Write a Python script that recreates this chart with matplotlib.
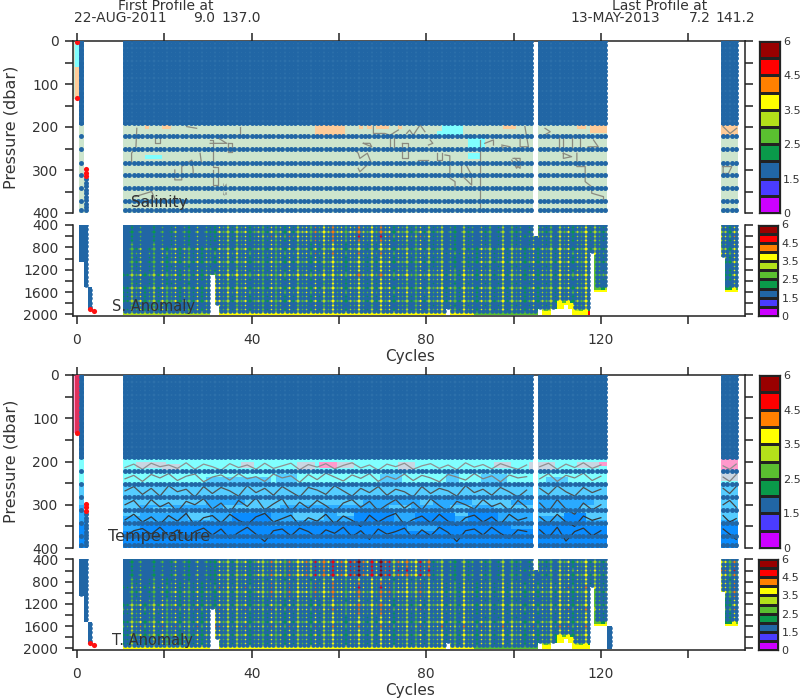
import numpy as np
import matplotlib
matplotlib.use("Agg")
import matplotlib.pyplot as plt
from matplotlib.colors import ListedColormap

W, H = 800, 700
# ---------- data ----------
bar_colors = ['#cc00ff', '#4a3cff', '#2166a5', '#0a9a4a', '#5abf30',
              '#b3e11a', '#ffff00', '#ff8000', '#ff0000', '#990000']
bar_labels = ['0', '1.5', '2.5', '3.5', '4.5', '6']
dot_color = '#2166a5'
xticks = [0, 20, 40, 60, 80, 100, 120, 140]
xlabels = ['0', '', '40', '', '80', '', '120', '']

shallow_levels = list(range(0, 200, 10)) + [222, 252, 283, 312, 342, 372, 392]
cycle2_levels = [322, 330, 338, 346, 354, 362, 370, 378, 386, 394]
shallow_cycles = [1] + list(range(11, 105)) + list(range(106, 122)) + list(range(148, 152))
shallow_blocks = [(-1, 0, 0, 135), (1, 1, 0, 400), (2, 2, 315, 400),
                  (11, 104, 0, 400), (106, 121, 0, 400), (148, 151, 0, 400)]
red_shallow_s = [(0, 3), (0, 133), (2, 298), (2, 306), (2, 314)]
red_shallow_t = [(0, 133), (2, 298), (2, 306), (2, 314)]
crimson_levels = [0, 10, 20, 30, 40, 50, 60, 70, 80, 90, 100, 110, 120, 130]

# salinity background classes: 0 pale green, 1 orange, 2 cyan, 3 upper-layer blue
s_colors = ['#cde5cd', '#ffcc99', '#80ffff', '#2f72ac']
s_patches = [(1, 151, 0, 196, 3),
             (0, 0, 0, 60, 2), (0, 0, 60, 130, 1), (16, 16, 195, 205, 1), (20, 21, 195, 205, 1),
             (55, 61, 195, 218, 1), (65, 65, 195, 205, 1), (67, 67, 195, 205, 1), (69, 71, 195, 207, 1),
             (74, 74, 195, 207, 1), (98, 100, 195, 207, 1), (115, 116, 195, 205, 1),
             (118, 121, 195, 215, 1), (148, 151, 195, 218, 1),
             (84, 88, 195, 218, 2), (83, 84, 210, 218, 2), (90, 93, 225, 253, 2),
             (90, 92, 258, 277, 2), (16, 19, 263, 277, 2)]
s_contours = [
    [(84.3, 265), (85.4, 267), (85.4, 319), (86.6, 327), (86.6, 346)],
    [(92.3, 230), (92.3, 400)],
    [(63.3, 250), (64.4, 261), (64.8, 273), (66.5, 261), (67.3, 281), (66.5, 288), (64.8, 304), (64.4, 296)],
    [(71.7, 226), (71.7, 250), (72.5, 250), (72.5, 226)],
    [(74.4, 238), (74.4, 273), (75.9, 273), (75.9, 238), (74.4, 238)],
    [(65.6, 238), (67.5, 246), (67.1, 238), (65.6, 238)],
    [(88.1, 284), (88.1, 312), (90.4, 335), (90.4, 312), (88.9, 284)],
    [(67.9, 199), (67.9, 215), (70.5, 215), (71.7, 219), (73.6, 207)],
    [(80.9, 230), (81.5, 238), (80.5, 242)],
    [(82.4, 261), (82.4, 277), (83.5, 277), (83.5, 261)],
    [(78.2, 277), (80.5, 277)],
    [(75.5, 215), (76.2, 207), (77, 219), (78.6, 195), (79.7, 211)],
    [(93.4, 238), (95.4, 230), (95.4, 242)],
    [(99.9, 273), (101.5, 273), (101.5, 296), (99.9, 285)],
    [(13.7, 203), (13.5, 246), (12.5, 261), (12.5, 284)],
    [(17.9, 219), (17.9, 238), (19, 238), (19, 222)],
    [(30.5, 230), (31.2, 230), (31.2, 292), (32.4, 292), (32.4, 335), (31.2, 335), (31.2, 300)],
    [(30.5, 238), (34.3, 238), (32.4, 226)],
    [(34.7, 238), (35.4, 238), (35.4, 257), (34.7, 257), (34.7, 238)],
    [(22.4, 300), (22.4, 323), (24, 323), (24, 292), (26.3, 277), (26.6, 300), (26.6, 308)],
    [(13.3, 362), (17.1, 350), (17.9, 370)],
    [(28.2, 261), (28.5, 284)],
    [(37.3, 199), (37.3, 218), (35.4, 218)],
    [(25.1, 199), (27.4, 203)],
    [(101.5, 222), (101.5, 246), (103.4, 246), (102.6, 199)],
    [(97.3, 242), (99.2, 246), (99.2, 253), (97.3, 246)],
    [(107.2, 203), (108.4, 211), (107.2, 218)],
    [(110.3, 218), (110.3, 250), (111.4, 250), (111.4, 218)],
    [(113.3, 222), (113.3, 250), (115.2, 250), (115.2, 226)],
    [(118.3, 230), (119.4, 246), (117.1, 246)],
    [(111.4, 261), (113.3, 269), (111.4, 273), (111.4, 261)],
    [(114.5, 261), (114.5, 292), (116.4, 292), (116.4, 327), (117.9, 339), (117.9, 354), (120.6, 362), (120.6, 370)],
    [(100.3, 273), (101.5, 285), (100.7, 296), (99.6, 277)],
    [(148, 292), (148, 308), (149.2, 308), (150, 292), (148, 292)],
    [(148, 199), (149.6, 215), (151.1, 203)],
]

# temperature background classes
t_colors = ['#c9d6e2', '#80ffff', '#55ccff', '#2aaaff', '#0a8cff', '#ff99cc', '#e0305c', '#2f72ac']
t_bands = [(0, 250, 1), (250, 300, 2), (300, 340, 3), (340, 400, 4)]
t_patches = [(1, 151, 0, 196, 7), (0, 0, 0, 135, 6), (-1, -1, 0, 135, 5),
             (14, 20, 200, 216, 0), (20, 23, 203, 220, 0), (38, 40, 200, 214, 0), (51, 54, 200, 218, 0),
             (56, 60, 200, 214, 5), (60, 63, 200, 216, 0), (74, 77, 200, 218, 0), (96, 99, 200, 215, 0),
             (104, 109, 200, 218, 0), (115, 119, 200, 216, 0), (120, 121, 200, 210, 5),
             (148, 151, 197, 222, 5), (148, 151, 222, 245, 0),
             (30, 44, 235, 250, 2), (46, 50, 228, 250, 2), (70, 74, 232, 250, 2), (85, 87, 225, 250, 2),
             (93, 98, 230, 250, 2), (108, 112, 235, 250, 2),
             (30, 38, 285, 300, 3), (66, 78, 285, 300, 3), (82, 90, 285, 300, 3), (100, 104, 290, 300, 3),
             (106, 118, 285, 300, 3),
             (11, 14, 300, 325, 2), (18, 22, 305, 320, 2), (26, 30, 310, 335, 2), (34, 46, 300, 312, 2),
             (50, 56, 310, 335, 2), (60, 64, 310, 325, 2), (72, 76, 300, 312, 2), (86, 90, 300, 325, 2),
             (96, 104, 300, 312, 2), (106, 112, 310, 325, 2), (116, 121, 300, 335, 2), (148, 151, 300, 335, 2),
             (36, 44, 318, 340, 4), (64, 72, 312, 340, 4), (78, 86, 318, 340, 4), (90, 96, 315, 340, 4),
             (112, 116, 318, 340, 4),
             (11, 14, 340, 360, 3), (44, 50, 340, 352, 3), (68, 72, 340, 352, 3), (76, 82, 345, 360, 3),
             (100, 104, 340, 355, 3), (117, 121, 340, 352, 3)]
t_line_cycles_a = list(range(11, 105, 2))
t_line_cycles_b = list(range(106, 122, 2))
t_line_cycles_c = [148, 149.5, 151]
t_line_colors = ['#909090', '#808080', '#505050', '#444444', '#333333', '#333333']
t_lines_a = [
    [214,206,218,204,212,208,216,203,218,206,212,220,205,214,208,218,204,216,210,204,219,207,213,205,217,209,203,215,208,220,206,212,204,218,210,205,216,208,219,203,213,207,217,205,212,218,208],
    [240,232,246,230,238,228,244,234,229,247,236,231,243,228,240,235,246,229,238,233,248,230,242,227,236,245,231,239,228,246,234,241,229,244,232,238,247,230,236,243,228,240,233,247,231,238,235],
    [268,258,276,262,280,256,270,264,282,258,274,260,268,280,256,272,262,278,258,270,282,260,266,276,256,268,280,262,272,258,278,264,270,282,258,274,262,268,280,256,272,264,278,260,270,282,266],
    [300,290,312,288,305,295,316,292,300,286,310,296,318,290,304,284,312,298,286,316,294,308,290,302,318,296,288,306,292,314,300,288,308,294,312,286,302,316,292,300,310,288,304,296,314,290,306],
    [335,322,340,328,345,325,338,320,348,330,325,342,322,336,346,328,320,340,332,324,348,330,338,322,344,326,336,350,324,340,328,320,346,334,326,342,322,338,348,330,324,340,328,345,322,336,330],
    [375,360,355,368,352,372,358,380,362,354,370,356,378,364,352,368,385,360,356,372,354,362,376,358,366,352,374,360,380,356,368,362,354,378,358,372,352,364,385,360,356,370,352,366,378,358,362],
]
t_lines_b = [
    [212,204,218,206,214,203,216,208], [240,228,246,232,238,227,244,234],
    [262,276,256,270,280,260,272,264], [296,316,288,310,322,296,312,300],
    [328,344,322,340,350,326,336,330], [358,376,352,384,362,354,372,360],
]
t_lines_c = [[210,218,206], [236,246,230], [262,274,258], [300,290,306], [325,340,332], [356,368,380]]

# deep panels: 21 dot rows per cycle
deep_levels = [400 + 77 * i for i in range(21)]
deep_band_edges = [650, 1050, 1450, 1800, 1900]
row_tone = [0, 0, .5, 0, -.5, 0, .5, 0, 0, -.5, 0, .5, 0, -.5, 0, .5, 0, 0, -.5, 0, 0]
tone_groups = ["0213012031", "1302103021", "0312021301", "2103120302", "1203021312", "0213102031",
               "3021201302", "1230210312", "0312013021", "2013021203", "1302130210", "2"]
tone_last = "2031"
s_anom_table = [
    [1.6, 2.6, 3.6, 4.2, 4.6, 5.0, 4.4, 2.8, 2.8, 3.2, 3.6, 3.8, 4.2],
    [3.0, 3.6, 4.0, 4.0, 4.2, 4.4, 4.0, 3.4, 3.6, 3.6, 4.0, 4.0, 4.0],
    [3.4, 3.8, 4.0, 4.0, 4.0, 4.1, 4.0, 3.8, 3.8, 3.8, 4.0, 4.0, 3.8],
    [3.8, 3.9, 4.0, 4.0, 4.0, 4.0, 4.0, 3.9, 3.9, 3.9, 4.0, 4.0, 3.8],
    [4.0, 4.0, 4.0, 4.0, 4.0, 4.0, 4.0, 4.0, 4.0, 4.0, 4.0, 4.0, 4.0],
    [5, 5, 6, 6, 6, 6, 6, 6, 4, 4, 6, 6, 6],
]
t_anom_table = [
    [1.8, 2.8, 3.8, 4.8, 5.6, 6.6, 6.0, 2.8, 2.6, 3.4, 4.0, 4.4, 5.4],
    [3.4, 3.8, 4.2, 4.6, 4.8, 5.0, 4.6, 3.8, 3.6, 4.0, 4.4, 4.8, 4.6],
    [4.0, 4.2, 4.4, 4.4, 4.4, 4.6, 4.2, 4.0, 3.8, 4.0, 4.4, 4.4, 4.2],
    [4.2, 4.2, 4.2, 4.2, 4.2, 4.2, 4.2, 4.2, 4.2, 4.2, 4.2, 4.2, 4.2],
    [4.4, 4.4, 4.4, 4.4, 4.4, 4.4, 4.4, 4.4, 4.4, 4.4, 4.4, 4.4, 4.4],
    [6, 6, 6, 6, 6, 6, 6, 6, 4, 4, 6, 6, 6],
]
deep_cycles = [1, 2, 3] + list(range(11, 122)) + list(range(148, 152))
deep_start = {3: 1555, 105: 600}
dot_bottom = {1: 1017, 2: 1478, 3: 1863, 31: 1250, 32: 1850, 85: 1863, 106: 1863, 107: 1863, 108: 1863,
              109: 1863, 110: 1709, 111: 1709, 112: 1709, 113: 1709, 114: 1863, 115: 1863, 116: 1863,
              117: 1863, 118: 900, 119: 1478, 120: 1478, 121: 1478, 148: 939, 149: 1478, 150: 1478, 151: 1478}
fill_bottom = {1: 1017, 2: 1478, 3: 1863, 31: 1250, 32: 1850, 85: 1863, 106: 1900, 109: 1900,
               110: 1863, 111: 1863, 112: 1786, 113: 1863, 118: 900, 119: 1555, 120: 1555, 121: 1555,
               148: 966, 149: 1555, 150: 1555, 151: 1555}
deep_red = [(3, 1900), (4, 1930)]
t_extra_cycle = 122
t_extra_range = (1632, 1940)
s_red_cell = (117, 1940)

# ---------- helpers ----------
CYC = np.arange(-1, 153)
plt.rcParams['font.family'] = 'DejaVu Sans'
text_c = '#333333'
fig = plt.figure(figsize=(W / 100, H / 100), dpi=100)


def px_axes(l, t, r, b):
    return fig.add_axes([l / W, 1 - b / H, (r - l) / W, (b - t) / H])


def txt(x, y, s, size=10, **kw):
    kw.setdefault('ha', 'center')
    fig.text(x / W, 1 - y / H, s, fontsize=size, va='center', color=text_c, **kw)


def style(ax, ylim, yticks, ylabels, bottom):
    ax.set_xlim(-0.916, 152.9)
    ax.set_ylim(*ylim)
    ax.set_xticks(xticks)
    ax.set_yticks(yticks)
    ax.set_yticklabels(ylabels, fontsize=10, color=text_c)
    ax.tick_params(axis='y', direction='out', length=6, width=1.1, left=True, right=True, pad=4.5, color='#222222')
    ax.tick_params(axis='x', direction='out', length=6, width=1.1, pad=6, color='#222222',
                   top=not bottom, bottom=bottom, labeltop=False, labelbottom=bottom)
    if bottom:
        ax.set_xticklabels(xlabels, fontsize=10, color=text_c)
    ax.spines['top'].set_visible(not bottom)
    ax.spines['bottom'].set_visible(bottom)
    for s in ax.spines.values():
        s.set_linewidth(1.1)
        s.set_color('#222222')
    ax.set_facecolor('white')


def shallow_field(bands, patches):
    edges = np.arange(0, 405, 5)
    mids = (edges[:-1] + edges[1:]) / 2
    grid = np.full((len(mids), len(CYC)), np.nan)
    for c0, c1, p0, p1 in shallow_blocks:
        for j, c in enumerate(CYC):
            if c0 <= c <= c1:
                sel = (mids >= p0) & (mids <= p1)
                grid[sel, j] = 0
    for p0, p1, k in bands:
        sel = (mids >= p0) & (mids < p1)
        grid[sel] = np.where(np.isnan(grid[sel]), np.nan, k)
    for c0, c1, p0, p1, k in patches:
        r = (mids >= p0) & (mids <= p1)
        cc = (CYC >= c0) & (CYC <= c1)
        sub = grid[np.ix_(r, cc)]
        grid[np.ix_(r, cc)] = np.where(np.isnan(sub), np.nan, k)
    return edges, np.ma.masked_invalid(grid)


def draw_shallow(ax, bands, patches, colors):
    edges, grid = shallow_field(bands, patches)
    x_edges = np.append(CYC - 0.5, CYC[-1] + 0.5)
    ax.pcolormesh(x_edges, edges, grid, cmap=ListedColormap(colors), vmin=-0.5, vmax=len(colors) - 0.5,
                  shading='flat', zorder=1, linewidth=0, antialiased=False)


def draw_shallow_dots(ax, red):
    xs, ys = [], []
    for c in shallow_cycles:
        for p in shallow_levels:
            xs.append(c)
            ys.append(p)
    for p in cycle2_levels:
        xs.append(2)
        ys.append(p)
    ax.scatter(xs, ys, s=DOT, c=dot_color, linewidths=0, zorder=4, snap=False)
    ax.scatter([r[0] for r in red], [r[1] for r in red], s=DOT * 1.1, c='#ff1010', linewidths=0, zorder=5, snap=False)


def tone_of(c):
    if 11 <= c <= 121:
        return int(''.join(tone_groups)[c - 11]) - 1
    return int(tone_last[c - 148]) - 1


def draw_deep(ax, table, red_cell=None, extra=False):
    lev = np.array(deep_levels, float)
    V = np.full((len(lev), len(CYC)), np.nan)
    cyc_list = list(deep_cycles)
    if extra:
        cyc_list.append(t_extra_cycle)
    xs, ys = [], []
    for c in cyc_list:
        j = c + 1
        start = deep_start.get(c, 400)
        lo, hi = start, dot_bottom.get(c, 1940)
        fill = fill_bottom.get(c, 2005)
        if c == t_extra_cycle:
            lo, hi = t_extra_range
            start, fill = t_extra_range
        for i, p in enumerate(lev):
            if p < start or p > fill:
                continue
            if c < 11 or c == t_extra_cycle:
                k = 2
            else:
                band = int(np.searchsorted(deep_band_edges, p))
                grp = 12 if c >= 148 else min((c - 11) // 10, 11)
                base = table[band][grp]
                k = base if band == 5 else base + tone_of(c) + row_tone[i]
                if p > hi:
                    k = 6
            V[i, j] = np.clip(round(k), 2, 9)
            if lo <= p <= hi:
                xs.append(c)
                ys.append(p)
    if red_cell:
        V[deep_levels.index(red_cell[1]), red_cell[0] + 1] = 8
    U = np.repeat(np.repeat(V, 2, axis=0), 2, axis=1)
    for j in range(1, len(CYC)):
        left = U[:, 2 * j - 1]
        ok = ~np.isnan(left) & ~np.isnan(U[:, 2 * j])
        U[ok, 2 * j] = left[ok]
    for i in range(1, len(lev)):
        up = U[2 * i - 1, :]
        ok = ~np.isnan(up) & ~np.isnan(U[2 * i, :])
        U[2 * i, ok] = up[ok]
    x_edges = np.arange(-1.5, 152.51, 0.5)
    y_edges = np.concatenate([[lev[0] - 38.5]] + [[p, p + 38.5] for p in lev])
    y_edges[-1] = 2005
    ax.pcolormesh(x_edges, y_edges, np.ma.masked_invalid(U), cmap=ListedColormap(bar_colors), vmin=-0.5, vmax=9.5,
                  shading='flat', zorder=1, linewidth=0, antialiased=False)
    ax.scatter(xs, ys, s=DOT_DEEP, c=dot_color, linewidths=0, zorder=4, snap=False)
    ax.scatter([r[0] for r in deep_red], [r[1] for r in deep_red], s=DOT * 1.1, c='#ff1010',
               linewidths=0, zorder=5, snap=False)


def draw_bar(l, t, r, b):
    ax = px_axes(l, t, r, b)
    ax.pcolormesh([0, 1], np.arange(11), np.arange(10)[:, None], cmap=ListedColormap(bar_colors),
                  vmin=-0.5, vmax=9.5, edgecolors='#222222', linewidth=0.9)
    ax.set_xticks([])
    ax.yaxis.tick_right()
    ax.set_yticks([0, 2, 4, 6, 8, 10])
    ax.set_yticklabels(bar_labels, fontsize=8, color=text_c)
    ax.tick_params(axis='y', length=0, pad=2.5)
    for s in ax.spines.values():
        s.set_linewidth(0.9)
        s.set_color('#222222')


DOT = 12.5
DOT_DEEP = 10.8
shallow_ticks = list(range(0, 401, 50))
shallow_labels = ['0', '', '100', '', '200', '', '300', '', '400']
deep_ticks = list(range(400, 2001, 200))
deep_labels = ['400', '', '800', '', '1200', '', '1600', '', '2000']
left, right = 73, 744.5

# Salinity
ax1 = px_axes(left, 41, right, 213)
style(ax1, (400, 0), shallow_ticks, shallow_labels, False)
draw_shallow(ax1, [(0, 400, 0)], s_patches, s_colors)
for line in s_contours:
    ax1.plot([q[0] for q in line], [q[1] for q in line], color='#8a8a80', lw=0.9, zorder=2)
ax1.text(33.5, 345, '34.5', fontsize=4.5, color='#777777', rotation=-90, ha='center', va='center', zorder=3)
draw_shallow_dots(ax1, red_shallow_s)

# Salinity anomaly
ax2 = px_axes(left, 224.5, right, 316)
style(ax2, (2027, 392), deep_ticks, deep_labels, True)
draw_deep(ax2, s_anom_table, red_cell=s_red_cell)

# Temperature
ax3 = px_axes(left, 375, right, 548)
style(ax3, (400, 0), shallow_ticks, shallow_labels, False)
draw_shallow(ax3, t_bands, t_patches, t_colors)
for k, col in enumerate(t_line_colors):
    ax3.plot(t_line_cycles_a, t_lines_a[k], color=col, lw=0.9, zorder=2)
    ax3.plot(t_line_cycles_b, t_lines_b[k], color=col, lw=0.9, zorder=2)
    ax3.plot(t_line_cycles_c, t_lines_c[k], color=col, lw=0.9, zorder=2)
draw_shallow_dots(ax3, red_shallow_t)
ax3.scatter([0] * len(crimson_levels), crimson_levels, s=DOT * 0.7, c='#e0305c', linewidths=0, zorder=4, snap=False)

# Temperature anomaly
ax4 = px_axes(left, 559, right, 650)
style(ax4, (2027, 392), deep_ticks, deep_labels, True)
draw_deep(ax4, t_anom_table, extra=True)

draw_bar(758.5, 41, 779.5, 213)
draw_bar(758, 224.5, 778, 316)
draw_bar(758.5, 375, 779.5, 548)
draw_bar(758, 559, 778, 650)

# Text
txt(166, 6, 'First Profile at', 10)
txt(120, 18.5, '22-AUG-2011', 10)
txt(204.5, 18.5, '9.0', 10)
txt(241.5, 18.5, '137.0', 10)
txt(660, 6, 'Last Profile at', 10)
txt(615, 18.5, '13-MAY-2013', 10)
txt(699.5, 18.5, '7.2', 10)
txt(735.5, 18.5, '141.2', 10)
txt(11, 127, 'Pressure (dbar)', 11.5, rotation=90)
txt(11, 461, 'Pressure (dbar)', 11.5, rotation=90)
txt(410, 357, 'Cycles', 11)
txt(410, 691, 'Cycles', 11)
txt(159, 202, 'Salinity', 11, zorder=10)
txt(153, 306, 'S. Anomaly', 10.5, zorder=10)
txt(159, 536, 'Temperature', 11.5, zorder=10)
txt(152, 640, 'T. Anomaly', 10.5, zorder=10)

fig.savefig('out.png', dpi=100)
